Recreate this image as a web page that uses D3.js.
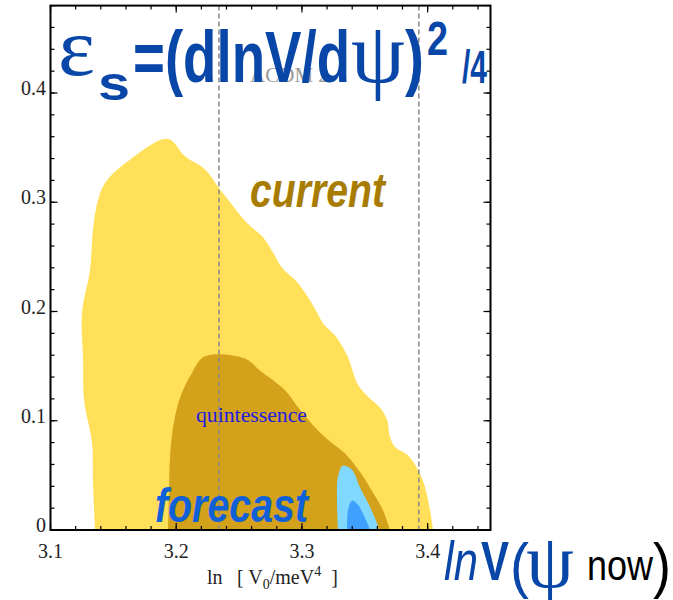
<!DOCTYPE html>
<html>
<head>
<meta charset="utf-8">
<script src="https://cdn.jsdelivr.net/npm/d3@7"></script>
<style>
  body { margin: 0; background: #fff; }
  svg { display: block; }
</style>
</head>
<body>
<svg width="673" height="600"></svg>
<script>
// data: [ln V0, eps_s]
var outerContour = [
  [3.1354, 0], [3.1338, 0.043], [3.1330, 0.080], [3.1267, 0.119], [3.1259, 0.156],
  [3.1251, 0.199], [3.1314, 0.238], [3.1338, 0.275], [3.1378, 0.302], [3.1442, 0.319],
  [3.1632, 0.339], [3.1935, 0.358], [3.2070, 0.342], [3.2229, 0.330], [3.2340, 0.313],
  [3.2428, 0.300], [3.2563, 0.281], [3.2690, 0.268], [3.2770, 0.254], [3.2842, 0.240],
  [3.2961, 0.227], [3.3049, 0.213], [3.3120, 0.199], [3.3168, 0.189], [3.3263, 0.178],
  [3.3359, 0.160], [3.3446, 0.133], [3.3526, 0.122], [3.3621, 0.112], [3.3677, 0.101],
  [3.3701, 0.085], [3.3741, 0.076], [3.3836, 0.069], [3.3924, 0.055], [3.3980, 0.039],
  [3.4019, 0.018], [3.4043, 0]
];
var innerContour = [
  [3.1935, 0], [3.1943, 0.037], [3.1951, 0.067], [3.1975, 0.094], [3.2030, 0.121],
  [3.2126, 0.144], [3.2229, 0.159], [3.2547, 0.157], [3.2666, 0.146], [3.2865, 0.128],
  [3.2985, 0.110], [3.3120, 0.092], [3.3224, 0.081], [3.3343, 0.070], [3.3462, 0.053],
  [3.3566, 0.034], [3.3645, 0.018], [3.3701, 0]
];
var forecastOuter = [
  [3.3287, 0], [3.3279, 0.027], [3.3287, 0.049], [3.3327, 0.059], [3.3399, 0.055],
  [3.3462, 0.039], [3.3542, 0.021], [3.3597, 0.006], [3.3613, 0]
];
var forecastInner = [
  [3.3359, 0], [3.3367, 0.018], [3.3399, 0.027], [3.3446, 0.023], [3.3502, 0.011], [3.3542, 0]
];
var dashedX = [3.234, 3.393];

var xMajor = [3.1, 3.2, 3.3, 3.4],
    xLabels = ["3.1", "3.2", "3.3", "3.4"];
var yMajor = [0, 0.1, 0.2, 0.3, 0.4],
    yLabels = ["0", "0.1", "0.2", "0.3", "0.4"];

var svg = d3.select("svg");
var serif = "'Liberation Serif', 'Times New Roman', serif",
    sans  = "'Liberation Sans', Arial, sans-serif";
var blue = "#0846a8";

var x = d3.scaleLinear().domain([3.1, 3.45]).range([50.5, 490.5]);
var y = d3.scaleLinear().domain([0, 0.48]).range([530, 5.6]);

var area = d3.line()
    .x(function (d) { return x(d[0]); })
    .y(function (d) { return y(d[1]); })
    .curve(d3.curveCatmullRom);

var layers = [
  { pts: outerContour,  fill: "#ffe058" },
  { pts: innerContour,  fill: "#d4a11a" },
  { pts: forecastOuter, fill: "#80d8ff" },
  { pts: forecastInner, fill: "#40a0ff" }
];
layers.forEach(function (l) {
  svg.append("path").attr("d", area(l.pts) + "Z").style("fill", l.fill);
});

// dashed guides
dashedX.forEach(function (v) {
  svg.append("line")
      .attr("x1", x(v)).attr("x2", x(v))
      .attr("y1", y.range()[1]).attr("y2", y.range()[0])
      .style("stroke", "#888").style("stroke-width", 1.5)
      .style("stroke-dasharray", "5,3");
});

// labels inside the plot
svg.append("text")
    .attr("x", 250).attr("y", 207)
    .attr("font-family", sans).attr("font-weight", "bold").attr("font-style", "italic")
    .attr("font-size", 48).attr("fill", "#a87c00")
    .attr("textLength", 135).attr("lengthAdjust", "spacingAndGlyphs")
    .text("current");
svg.append("text")
    .attr("x", 155).attr("y", 522)
    .attr("font-family", sans).attr("font-weight", "bold").attr("font-style", "italic")
    .attr("font-size", 48).attr("fill", "#1060d8")
    .attr("textLength", 153).attr("lengthAdjust", "spacingAndGlyphs")
    .text("forecast");
svg.append("text")
    .attr("x", 196).attr("y", 422)
    .attr("font-family", serif).attr("font-size", 21).attr("fill", "#1e1ee0")
    .attr("textLength", 111).attr("lengthAdjust", "spacingAndGlyphs")
    .text("quintessence");

// axes, ticks point inward on all four sides
var xMinor = d3.range(3.1, 3.451, 0.02),
    yMinor = d3.range(0, 0.481, 0.02);

function tickLines(g, scale, vals, len, side) {
  vals.forEach(function (v) {
    var p = scale(v);
    var l = g.append("line").style("stroke", "#000").style("stroke-width", 1.2);
    if (side === "bottom") l.attr("x1", p).attr("x2", p).attr("y1", 530).attr("y2", 530 - len);
    if (side === "top")    l.attr("x1", p).attr("x2", p).attr("y1", 5.6).attr("y2", 5.6 + len);
    if (side === "left")   l.attr("x1", 50.5).attr("x2", 50.5 + len).attr("y1", p).attr("y2", p);
    if (side === "right")  l.attr("x1", 490.5).attr("x2", 490.5 - len).attr("y1", p).attr("y2", p);
  });
}
var axes = svg.append("g");
["bottom", "top"].forEach(function (s) {
  tickLines(axes, x, xMinor, 4, s);
  tickLines(axes, x, xMajor, 7, s);
});
["left", "right"].forEach(function (s) {
  tickLines(axes, y, yMinor, 4, s);
  tickLines(axes, y, yMajor, 7, s);
});
axes.append("rect")
    .attr("x", 50.5).attr("y", 5.6)
    .attr("width", 440).attr("height", 524.4)
    .style("fill", "none").style("stroke", "#000").style("stroke-width", 2);

xMajor.forEach(function (v, i) {
  axes.append("text")
      .attr("x", x(v)).attr("y", 558)
      .attr("text-anchor", "middle")
      .attr("font-family", serif).attr("font-size", 20).attr("fill", "#222")
      .text(xLabels[i]);
});
yMajor.forEach(function (v, i) {
  axes.append("text")
      .attr("x", 46).attr("y", y(v) + 2)
      .attr("text-anchor", "end")
      .attr("font-family", serif).attr("font-size", 20).attr("fill", "#222")
      .text(yLabels[i]);
});

// x axis title: ln [ V0/meV^4 ]
svg.append("text")
    .attr("x", 207).attr("y", 584)
    .attr("font-family", serif).attr("font-size", 20).attr("fill", "#222")
    .text("ln");
var xt = svg.append("text")
    .attr("x", 237).attr("y", 584)
    .attr("font-family", serif).attr("font-size", 20).attr("fill", "#222")
    .style("white-space", "pre");
xt.append("tspan").text("[ V");
xt.append("tspan").attr("font-size", 14).attr("dy", 5).text("0");
xt.append("tspan").attr("dy", -5).text("/meV");
xt.append("tspan").attr("font-size", 14).attr("dy", -8).text("4");
xt.append("tspan").attr("dy", 8).text("  ]");

// grey legend hidden behind the title
svg.append("text")
    .attr("x", 250).attr("y", 82)
    .attr("font-family", serif).attr("font-size", 21).attr("fill", "#999")
    .text("\u039BCDM 2");

// big title  eps_s = (d lnV / d psi)^2 / 4
function put(str, px, py, size, fam, w, len, col, style) {
  var t = svg.append("text")
      .attr("x", px).attr("y", py)
      .attr("font-family", fam).attr("font-size", size)
      .attr("font-weight", w).attr("fill", col || blue)
      .text(str);
  if (style) t.attr("font-style", style);
  if (len) t.attr("textLength", len).attr("lengthAdjust", "spacingAndGlyphs");
  return t;
}
function psi(cx, base, size) {
  svg.append("text")
      .attr("x", cx).attr("y", base)
      .attr("text-anchor", "middle")
      .attr("font-family", serif).attr("font-size", size)
      .attr("fill", blue)
      .text("\u03C8");
}
put("\u03B5", 58, 75, 82, serif, "normal", 37);
put("s", 98, 100, 48, sans, "bold", 32);
put("=(dlnV/d", 133, 82, 72, sans, "bold", 217);
psi(378, 82, 86);
put(")", 405, 82, 72, sans, "bold", 19);
put("2", 427, 55, 48, sans, "bold", 21);
put("/4", 462, 83, 46, sans, "bold", 25);

// bottom-right label  lnV(psi_now)
put("ln", 444, 580, 55, sans, "normal", 34, blue, "italic");
put("V", 481, 580, 55, sans, "bold", 28);
put("(", 510, 586, 62, sans, "normal", 19);
psi(550, 587, 76);
put("now", 587, 580, 42, sans, "normal", 66, "#000");
put(")", 653, 586, 62, sans, "normal", 18, "#000");
</script>
</body>
</html>
